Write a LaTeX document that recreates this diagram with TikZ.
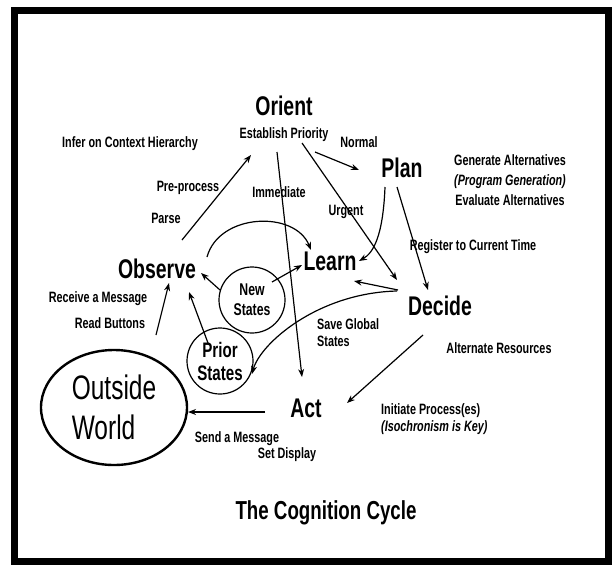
\documentclass[tikz,border=0pt]{standalone}
\usepackage{fontspec}
\setmainfont{Liberation Sans}[FakeStretch=0.72]
\usetikzlibrary{shapes.geometric, arrows.meta, positioning}

\begin{document}
\begin{tikzpicture}[
    x=1pt, y=-1pt,
    big/.style={anchor=base, inner sep=0pt, font=\fontsize{27}{30}\selectfont\bfseries},
    lbl/.style={anchor=base, inner sep=0pt, font=\fontsize{15}{17}\selectfont\bfseries},
    note/.style={inner sep=0pt, align=left, font=\fontsize{15}{17}\selectfont\bfseries},
    state/.style={draw, circle, line width=1.2pt, minimum size=66pt, inner sep=0pt, align=center},
    arrow/.style={-{Stealth[length=8pt, width=6pt]}, line width=1.2pt}
]
\useasboundingbox (0,0) rectangle (612,565);
\draw [line width=7pt] (14.5,10) rectangle (608.5,561.5);

% the cycle stages
\node (orient) [big] at (284,115) {Orient};
\node (prio) [lbl, below=12pt of orient] {Establish Priority};
\node (plan) [big] at (402,177) {Plan};
\node (observe) [big] at (157,278) {Observe};
\node (learn) [big] at (330,270) {Learn};
\node (decide) [big] at (440,315) {Decide};
\node (act) [big] at (306,417) {Act};
\node (newst) [state, font=\fontsize{17}{20}\selectfont\bfseries] at (252,300) {New\\States};
\node (prior) [state, font=\fontsize{21}{23}\selectfont\bfseries] at (220,361) {Prior\\States};
\node (world) [draw, ellipse, line width=2.4pt, minimum width=146pt, minimum height=115pt, inner sep=0pt, align=left, font=\fontsize{34}{40}\selectfont] at (114,407.5) {Outside\\World};

% labels
\node (infer) [lbl] at (130,147) {Infer on Context Hierarchy};
\node (normal) [lbl] at (359,147) {Normal};
\node (gen) [note, align=center, font=\fontsize{15}{20}\selectfont\bfseries] at (510,180) {Generate Alternatives\\\textit{(Program Generation)}\\Evaluate Alternatives};
\node (prep) [lbl] at (188,191) {Pre-process};
\node (immed) [lbl] at (279,197) {Immediate};
\node (parse) [lbl] at (166,223) {Parse};
\node (urgent) [lbl] at (346,215) {Urgent};
\node (regist) [lbl] at (473,250) {Register to Current Time};
\node (receive) [lbl] at (98,302) {Receive a Message};
\node (buttons) [lbl] at (110,328) {Read Buttons};
\node (save) [note, anchor=north west] at (317,318) {Save Global\\States};
\node (altres) [lbl] at (499,353) {Alternate Resources};
\node (init) [note, anchor=north west] at (381,403) {Initiate Process(es)\\\textit{(Isochronism is Key)}};
\node (sendmsg) [lbl] at (237,442) {Send a Message};
\node (setdisp) [lbl] at (287,458) {Set Display};
\node (title) [anchor=base, inner sep=0pt, font=\fontsize{26}{30}\selectfont\bfseries] at (326,519) {The Cognition Cycle};

% connectors
\draw [arrow] ([shift={(25,-38)}]observe.base) -- ([shift={(-33,40)}]orient.base);
\draw [arrow] ([shift={(31,37)}]orient.base) -- ([shift={(-43,-7)}]plan.base);
\draw [arrow] ([shift={(18,28)}]orient.base) -- ([shift={(-43,-35)}]decide.base);
\draw [arrow] ([shift={(-7,37)}]orient.base) -- ([shift={(-4,-40)}]act.base);
\draw [arrow] ([shift={(-17,10)}]plan.base) .. controls +(-2,50) and +(14,-8) .. ([shift={(29,-9)}]learn.base);
\draw [arrow] ([shift={(-5,10)}]plan.base) -- ([shift={(-12,-25)}]decide.base);
\draw [arrow] ([shift={(-42,-25)}]decide.base) -- ([shift={(24,11)}]learn.base);
\draw [arrow] ([shift={(-43,-24)}]decide.base) .. controls +(-80,2) and +(8,-30) .. ([shift={(32,13)}]prior.center);
\draw [arrow] ([shift={(50,-21)}]observe.base) .. controls +(12,-44) and +(-16,-40) .. ([shift={(-19,-20)}]learn.base);
\draw [arrow] ([shift={(20,-18)}]newst.center) -- ([shift={(-28,-5)}]learn.base);
\draw [arrow] ([shift={(-32,-10)}]newst.center) -- ([shift={(44,-5)}]observe.base);
\draw [arrow] ([shift={(-12,-18)}]prior.center) -- ([shift={(32,14)}]observe.base);
\draw [arrow] ([shift={(42,-72.5)}]world.center) -- ([shift={(12,5)}]observe.base);
\draw [arrow] ([shift={(-41,-5)}]act.base) -- ([shift={(74,4.5)}]world.center);
\draw [arrow] ([shift={(-17,20)}]decide.base) -- ([shift={(41,-14)}]act.base);

\end{tikzpicture}
\end{document}
